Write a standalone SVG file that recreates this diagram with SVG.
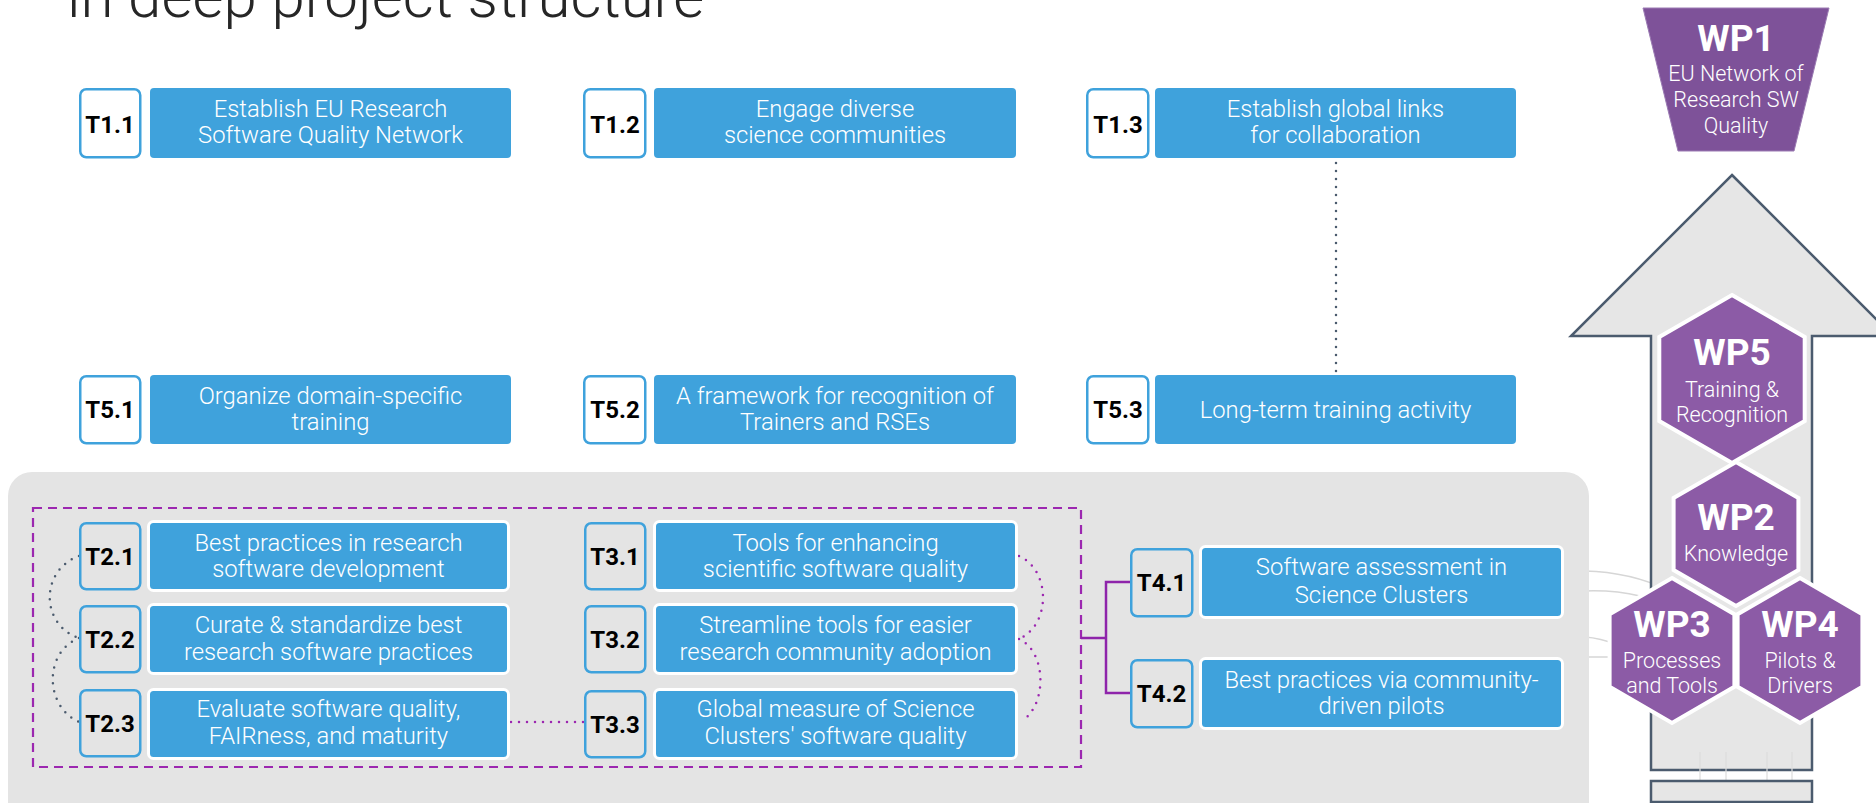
<svg xmlns="http://www.w3.org/2000/svg" width="1876" height="803" viewBox="0 0 1876 803">
<style>
.lab{fill:#fff;stroke:#3FA2DC;stroke-width:2.5}
.labg{fill:#E4E4E4;stroke:#3FA2DC;stroke-width:2.5}
.box{fill:#3FA2DC}
.boxw{fill:#3FA2DC;stroke:#fff;stroke-width:3}
.lt{font-family:Roboto,'Liberation Sans',sans-serif;font-weight:700;font-size:24px;fill:#000;text-anchor:middle}
.bt{font-family:Roboto,'Liberation Sans',sans-serif;font-weight:300;font-size:23.8px;fill:#fff;text-anchor:middle}
.hex{fill:#8C5BA6;stroke:#fff;stroke-width:4}
.wpt{font-family:Roboto,'Liberation Sans',sans-serif;font-weight:700;font-size:37px;fill:#fff;text-anchor:middle}
.wps{font-family:Roboto,'Liberation Sans',sans-serif;font-weight:300;font-size:21.5px;fill:#fff;text-anchor:middle}
.dotg{fill:none;stroke:#4B5B6E;stroke-width:2.5;stroke-linecap:round;stroke-dasharray:0 8}
.dotp{fill:none;stroke:#9C27B0;stroke-width:2.5;stroke-linecap:round;stroke-dasharray:0 8}
.faint{fill:none;stroke:#D6D6D6;stroke-width:1.5}
</style>

<rect width="1876" height="803" fill="#fff"/>
<text x="67" y="17" font-family="Roboto,'Liberation Sans',sans-serif" font-weight="300" font-size="60" fill="#262626">in deep project structure</text>

<!-- faint lines -->
<g id="faint">
<path class="faint" d="M1585,571 Q1630,572 1668,590"/>
<path class="faint" d="M1585,591 Q1615,590 1640,596"/>
<path class="faint" d="M1585,637 Q1600,638 1618,645"/>
<path class="faint" d="M1585,657 L1612,657"/>
</g>

<!-- big arrow -->
<g id="arrow">
<path d="M1732,175 L1893,336 L1812,336 L1812,770 L1651,770 L1651,336 L1571,336 Z" fill="#E6E6E6" stroke="#4B5B6E" stroke-width="2.5" stroke-linejoin="miter"/>
<path d="M1700,752 V781 M1726,752 V781 M1767,752 V781 M1792,752 V781" fill="none" stroke="#DCDCDC" stroke-width="1.2"/>
<rect x="1651" y="781" width="161" height="21" fill="#E6E6E6" stroke="#4B5B6E" stroke-width="2.5"/>
</g>

<!-- panel -->
<rect x="8" y="472" width="1581" height="360" rx="24" fill="#E4E4E4"/>
<rect x="33" y="508" width="1048" height="259" fill="none" stroke="#9C27B0" stroke-width="2.2" stroke-dasharray="9 6"/>

<!-- connectors -->
<g id="connectors">
<path class="dotg" d="M1336,163 V372"/>
<path class="dotg" d="M79,556 C40,570 40,625 79,638"/>
<path class="dotg" d="M79,638 C44,652 44,706 79,722"/>
<path class="dotp" d="M1019,556 C1051,570 1051,625 1019,639"/>
<path class="dotp" d="M1019,639 C1047,652 1047,705 1022,721"/>
<path class="dotp" d="M511,722 H585"/>
<path d="M1081,638 H1106 M1130,582 H1106 V693 H1130" fill="none" stroke="#8E24AA" stroke-width="2.5"/>
</g>

<!-- Row T1 -->
<g id="T1.1">
<rect class="lab" x="80.25" y="89.25" width="60" height="68" rx="6"/>
<text class="lt" x="110" y="133">T1.1</text>
<rect class="box" x="150" y="88" width="361" height="70" rx="4"/>
<text class="bt" x="330.5" y="117">Establish EU Research</text>
<text class="bt" x="330.5" y="143">Software Quality Network</text>
</g>
<g id="T1.2">
<rect class="lab" x="584.25" y="89.25" width="61" height="68" rx="6"/>
<text class="lt" x="615" y="133">T1.2</text>
<rect class="box" x="654" y="88" width="362" height="70" rx="4"/>
<text class="bt" x="835" y="117">Engage diverse</text>
<text class="bt" x="835" y="143">science communities</text>
</g>
<g id="T1.3">
<rect class="lab" x="1087.25" y="89.25" width="61" height="68" rx="6"/>
<text class="lt" x="1118" y="133">T1.3</text>
<rect class="box" x="1155" y="88" width="361" height="70" rx="4"/>
<text class="bt" x="1335.5" y="117">Establish global links</text>
<text class="bt" x="1335.5" y="143">for collaboration</text>
</g>

<!-- Row T5 -->
<g id="T5.1">
<rect class="lab" x="80.25" y="376.25" width="60" height="67" rx="6"/>
<text class="lt" x="110" y="418">T5.1</text>
<rect class="box" x="150" y="375" width="361" height="69" rx="4"/>
<text class="bt" x="330.5" y="403.5">Organize domain-specific</text>
<text class="bt" x="330.5" y="430">training</text>
</g>
<g id="T5.2">
<rect class="lab" x="584.25" y="376.25" width="61" height="67" rx="6"/>
<text class="lt" x="615" y="418">T5.2</text>
<rect class="box" x="654" y="375" width="362" height="69" rx="4"/>
<text class="bt" x="835" y="403.5">A framework for recognition of</text>
<text class="bt" x="835" y="430">Trainers and RSEs</text>
</g>
<g id="T5.3">
<rect class="lab" x="1087.25" y="376.25" width="61" height="67" rx="6"/>
<text class="lt" x="1118" y="418">T5.3</text>
<rect class="box" x="1155" y="375" width="361" height="69" rx="4"/>
<text class="bt" x="1335.5" y="418">Long-term training activity</text>
</g>

<!-- T2 -->
<g id="T2.1">
<rect class="labg" x="80.25" y="523.25" width="60" height="66" rx="6"/>
<text class="lt" x="110" y="565">T2.1</text>
<rect class="boxw" x="148.5" y="521.5" width="360" height="69" rx="5"/>
<text class="bt" x="328.5" y="550.5">Best practices in research</text>
<text class="bt" x="328.5" y="577">software development</text>
</g>
<g id="T2.2">
<rect class="labg" x="80.25" y="606.25" width="60" height="66" rx="6"/>
<text class="lt" x="110" y="648">T2.2</text>
<rect class="boxw" x="148.5" y="604.5" width="360" height="69" rx="5"/>
<text class="bt" x="328.5" y="633">Curate &amp; standardize best</text>
<text class="bt" x="328.5" y="659.5">research software practices</text>
</g>
<g id="T2.3">
<rect class="labg" x="80.25" y="690.25" width="60" height="66" rx="6"/>
<text class="lt" x="110" y="732">T2.3</text>
<rect class="boxw" x="148.5" y="689.5" width="360" height="69" rx="5"/>
<text class="bt" x="328.5" y="717">Evaluate software quality,</text>
<text class="bt" x="328.5" y="743.5">FAIRness, and maturity</text>
</g>

<!-- T3 -->
<g id="T3.1">
<rect class="labg" x="585.25" y="523.25" width="60" height="66" rx="6"/>
<text class="lt" x="615" y="565">T3.1</text>
<rect class="boxw" x="654.5" y="521.5" width="362" height="69" rx="5"/>
<text class="bt" x="835.5" y="550.5">Tools for enhancing</text>
<text class="bt" x="835.5" y="577">scientific software quality</text>
</g>
<g id="T3.2">
<rect class="labg" x="585.25" y="606.25" width="60" height="66" rx="6"/>
<text class="lt" x="615" y="648">T3.2</text>
<rect class="boxw" x="654.5" y="604.5" width="362" height="69" rx="5"/>
<text class="bt" x="835.5" y="633">Streamline tools for easier</text>
<text class="bt" x="835.5" y="659.5">research community adoption</text>
</g>
<g id="T3.3">
<rect class="labg" x="585.25" y="691.25" width="60" height="66" rx="6"/>
<text class="lt" x="615" y="733">T3.3</text>
<rect class="boxw" x="654.5" y="689.5" width="362" height="69" rx="5"/>
<text class="bt" x="835.5" y="717">Global measure of Science</text>
<text class="bt" x="835.5" y="743.5">Clusters' software quality</text>
</g>

<!-- T4 -->
<g id="T4.1">
<rect class="labg" x="1131.25" y="549.25" width="61" height="67" rx="6"/>
<text class="lt" x="1161.5" y="591">T4.1</text>
<rect class="boxw" x="1200.5" y="546.5" width="362" height="71" rx="5"/>
<text class="bt" x="1381.5" y="575">Software assessment in</text>
<text class="bt" x="1381.5" y="603">Science Clusters</text>
</g>
<g id="T4.2">
<rect class="labg" x="1131.25" y="660.25" width="61" height="67" rx="6"/>
<text class="lt" x="1161.5" y="702">T4.2</text>
<rect class="boxw" x="1200.5" y="658.5" width="362" height="70" rx="5"/>
<text class="bt" x="1381.5" y="688">Best practices via community-</text>
<text class="bt" x="1381.5" y="714">driven pilots</text>
</g>

<!-- WP1 -->
<g id="WP1">
<path d="M1643,8 L1829,8 L1794,151 L1678,151 Z" fill="#7E5299" stroke="#9B7BB3" stroke-width="1"/>
<text class="wpt" x="1736" y="51">WP1</text>
<text class="wps" x="1736" y="80.5">EU Network of</text>
<text class="wps" x="1736" y="107">Research SW</text>
<text class="wps" x="1736" y="133">Quality</text>
</g>

<!-- WP5 -->
<g id="WP5">
<polygon class="hex" points="1732,295 1804.7,337 1804.7,421 1732,463 1659.3,421 1659.3,337"/>
<text class="wpt" x="1732" y="365">WP5</text>
<text class="wps" x="1732" y="396.5">Training &amp;</text>
<text class="wps" x="1732" y="422">Recognition</text>
</g>
<!-- WP2 -->
<g id="WP2">
<polygon class="hex" points="1736,462 1798.4,498 1798.4,570 1736,606 1673.6,570 1673.6,498"/>
<text class="wpt" x="1736" y="530">WP2</text>
<text class="wps" x="1736" y="560.5">Knowledge</text>
</g>
<!-- WP3 -->
<g id="WP3">
<polygon class="hex" points="1672,578 1734.4,614.25 1734.4,686.75 1672,723 1609.6,686.75 1609.6,614.25"/>
<text class="wpt" x="1672" y="637">WP3</text>
<text class="wps" x="1672" y="667.5">Processes</text>
<text class="wps" x="1672" y="693">and Tools</text>
</g>
<!-- WP4 -->
<g id="WP4">
<polygon class="hex" points="1800,578 1862.4,614.25 1862.4,686.75 1800,723 1737.6,686.75 1737.6,614.25"/>
<text class="wpt" x="1800" y="637">WP4</text>
<text class="wps" x="1800" y="667.5">Pilots &amp;</text>
<text class="wps" x="1800" y="693">Drivers</text>
</g>
</svg>
